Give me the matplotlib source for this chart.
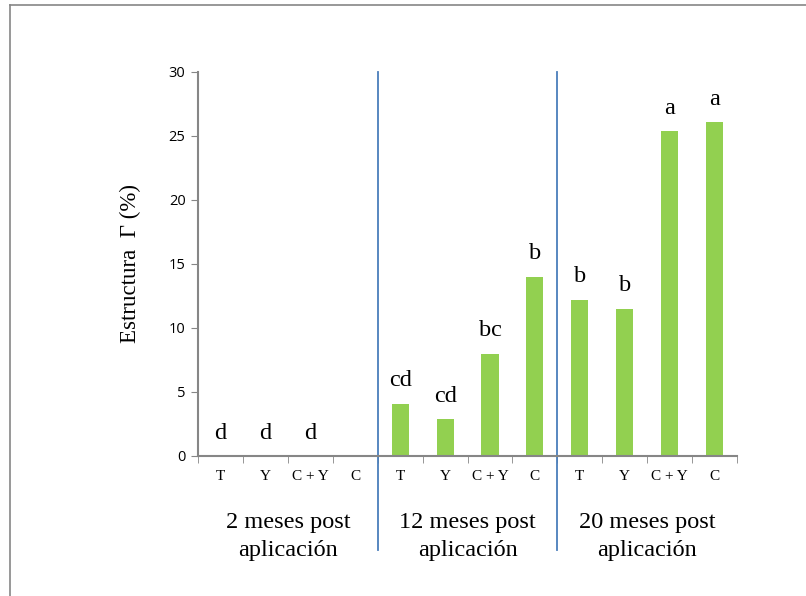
import matplotlib.pyplot as plt
import numpy as np

# data
groups = ["2 meses post\naplicación", "12 meses post\naplicación", "20 meses post\naplicación"]
treatments = ["T", "Y", "C + Y", "C"]
values_2m = [0, 0, 0, 0]
values_12m = [4.1, 2.9, 8.0, 14.0]
values_20m = [12.2, 11.5, 25.4, 26.1]
letters_2m = ["d", "d", "d", ""]
letters_12m = ["cd", "cd", "bc", "b"]
letters_20m = ["b", "b", "a", "a"]

values = values_2m + values_12m + values_20m
letters = letters_2m + letters_12m + letters_20m
labels = treatments * len(groups)
x = np.arange(len(values))

serif = ["Liberation Serif", "DejaVu Serif"]
gray = "#868686"

fig = plt.figure(figsize=(8.06, 5.96), dpi=100)
ax = fig.add_axes([0.2457, 0.2349, 0.6687, 0.6443])

ax.bar(x, values, width=0.38, color="#92D050")
for xi, v, lab in zip(x, values, letters):
    if lab:
        ax.annotate(lab, (xi, v), xytext=(0, 12.5), textcoords="offset points",
                    ha="center", va="baseline", fontsize=17.5, family=serif)

ax.set_xlim(-0.5, len(values) - 0.5)
ax.set_ylim(0, 30)
ax.set_yticks(range(0, 31, 5))
ax.set_xticks(x)
ax.set_xticklabels(labels, family=serif, fontsize=11)
ax.set_xticks(np.arange(-0.5, len(values), 1.0), minor=True)
ax.tick_params(axis="x", which="major", length=0, pad=10)
ax.tick_params(axis="x", which="minor", length=5, color=gray, direction="out")
ax.tick_params(axis="y", length=5, color=gray, labelsize=10.5, pad=4)
for t in ax.get_yticklabels():
    t.set_family(["Open Sans", "DejaVu Sans"])

for side in ["top", "right"]:
    ax.spines[side].set_visible(False)
for side in ["left", "bottom"]:
    ax.spines[side].set_color(gray)
    ax.spines[side].set_linewidth(1.5)

ax.set_ylabel("Estructura  Γ (%)", family=serif, fontsize=16.5, labelpad=20)

# group separators and group labels
for i in range(1, len(groups)):
    ax.axvline(i * len(treatments) - 0.5, ymin=-0.245, ymax=1.0,
               color="#4A7EBB", lw=1.3, clip_on=False)
for i, g in enumerate(groups):
    ax.text((i + 0.5) * len(treatments) - 0.5, -0.21, g, transform=ax.get_xaxis_transform(),
            ha="center", va="center", fontsize=17.5, family=serif, linespacing=1.4)

# outer frame lines of the original picture
fig.add_artist(plt.Line2D([10 / 806, 10 / 806], [0, 1 - 5 / 596], color=gray, lw=1.2))
fig.add_artist(plt.Line2D([10 / 806, 1], [1 - 5 / 596, 1 - 5 / 596], color=gray, lw=1.2))

fig.savefig("out.png", dpi=100)
